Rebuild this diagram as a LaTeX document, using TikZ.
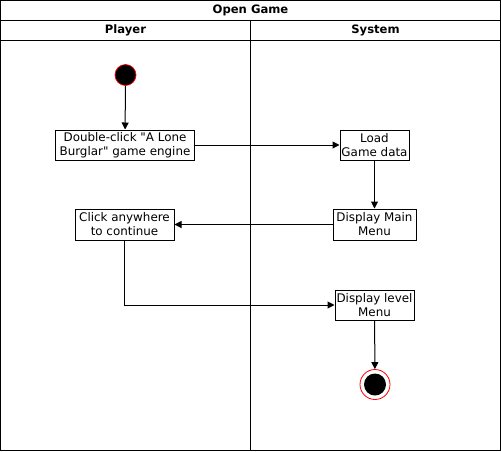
\documentclass[tikz,border=0pt]{standalone}
\usepackage{fontspec}
\setmainfont{DejaVu Sans}
\usetikzlibrary{arrows.meta}
\begin{document}
\begin{tikzpicture}[x=1pt,y=-1pt,
  lane/.style={draw=black,line width=1pt},
  act/.style={draw=black,fill=white,line width=1pt,align=center,font=\fontsize{11.9}{14}\selectfont,inner sep=0pt},
  flow/.style={draw=black,line width=1pt,-{Triangle[length=7pt,width=7pt]}},
  hdr/.style={font=\fontsize{11.6}{12}\selectfont\bfseries}]
\useasboundingbox (0,0) rectangle (501,451);
% frame
\draw[lane] (0.5,0.5) rectangle (500.5,450.5);
\draw[lane] (0.5,20.5) -- (500.5,20.5);
\draw[lane] (0.5,40.5) -- (500.5,40.5);
\draw[lane] (250.5,20.5) -- (250.5,450.5);
\node[hdr] (title) at (250.5,10.5) {Open Game};
\node[hdr] (player) at (125.5,30.5) {Player};
\node[hdr] (system) at (375.5,30.5) {System};
% start
\node[circle,fill=black,draw=red,line width=0.7pt,minimum size=21pt,inner sep=0pt] (start) at (125.5,75) {};
% activities
\node[act,minimum width=139pt,minimum height=30pt] (dbl) at (125,145) {Double-click \textquotedbl A Lone\\Burglar\textquotedbl{} game engine};
\node[act,minimum width=69pt,minimum height=30pt] (load) at (374.5,145) {Load\\Game data};
\node[act,minimum width=83pt,minimum height=31pt] (main) at (374.5,224.5) {Display Main\\Menu};
\node[act,minimum width=99pt,minimum height=31pt] (click) at (124.5,224.5) {Click anywhere\\to continue};
\node[act,minimum width=79pt,minimum height=30pt] (level) at (374.5,305) {Display level\\Menu};
% end
\node[circle,draw=red,fill=white,line width=0.8pt,minimum size=30pt,inner sep=0pt] (end) at (375,384.5) {};
\node[circle,fill=black,minimum size=22pt,inner sep=0pt] (endin) at (end.center) {};
% flows
\draw[flow] (start) -- (dbl);
\draw[flow] (dbl) -- (load);
\draw[flow] (load) -- (main);
\draw[flow] (main) -- (click);
\draw[flow] (click.south) |- (level.west);
\draw[flow] (level) -- (end);
\end{tikzpicture}
\end{document}
